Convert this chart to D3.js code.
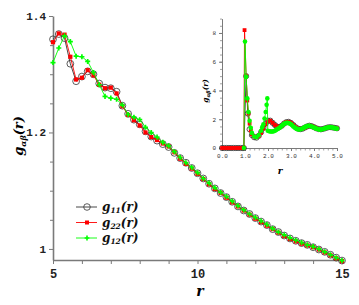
<!DOCTYPE html>
<html>
<head>
<meta charset="utf-8">
<script src="https://cdn.jsdelivr.net/npm/d3@7"></script>
<style>
body{margin:0;background:#fff;}
text{font-family:"Liberation Mono",monospace;}
.lab{font-family:"DejaVu Serif",serif;}
</style>
</head>
<body>
<script>
// main panel data, r = 5 .. 15
var rMain = [5.0,5.2,5.4,5.6,5.8,6.0,6.2,6.4,6.6,6.8,7.0,7.2,7.4,7.6,7.8,8.0,8.2,8.4,8.6,8.8,9.0,9.2,9.4,9.6,9.8,10.0,10.2,10.4,10.6,10.8,11.0,11.2,11.4,11.6,11.8,12.0,12.2,12.4,12.6,12.8,13.0,13.2,13.4,13.6,13.8,14.0,14.2,14.4,14.6,14.8,15.0]
var g11Main = [1.360,1.369,1.362,1.318,1.288,1.296,1.305,1.300,1.284,1.277,1.276,1.270,1.246,1.232,1.222,1.214,1.202,1.193,1.186,1.180,1.175,1.165,1.156,1.148,1.139,1.130,1.121,1.112,1.104,1.096,1.089,1.081,1.073,1.066,1.060,1.053,1.047,1.041,1.034,1.029,1.023,1.018,1.014,1.010,1.007,1.003,0.999,0.995,0.990,0.985,0.980]
var g22Main = [1.355,1.370,1.368,1.330,1.291,1.294,1.307,1.298,1.282,1.276,1.277,1.267,1.245,1.230,1.221,1.212,1.200,1.192,1.187,1.181,1.176,1.166,1.155,1.146,1.138,1.129,1.120,1.111,1.103,1.096,1.088,1.080,1.073,1.066,1.059,1.052,1.046,1.040,1.034,1.028,1.022,1.017,1.013,1.009,1.006,1.003,0.999,0.994,0.989,0.984,0.979]
var g12Main = [1.320,1.345,1.366,1.356,1.331,1.330,1.322,1.303,1.282,1.262,1.259,1.257,1.247,1.231,1.226,1.222,1.209,1.200,1.192,1.183,1.177,1.167,1.157,1.148,1.140,1.131,1.121,1.113,1.105,1.097,1.090,1.082,1.074,1.067,1.060,1.054,1.048,1.042,1.035,1.029,1.024,1.019,1.015,1.011,1.007,1.004,1.000,0.995,0.990,0.985,0.980]

// inset data, r = 0 .. 5
var rIn11 = [0,0.1,0.2,0.3,0.4,0.5,0.6,0.7,0.8,0.9,0.95,1.05,1.12,1.2,1.3,1.4,1.5,1.6,1.7,1.8,1.9,2.0,2.1,2.2,2.3,2.4,2.5,2.6,2.7,2.8,2.9,3.0,3.1,3.2,3.3,3.4,3.5,3.6,3.7,3.8,3.9,4.0,4.1,4.2,4.3,4.4,4.5,4.6,4.7,4.8,4.9,5.0]
var g11In = [0,0,0,0,0,0,0,0,0,0,0,5.0,2.4,1.3,0.9,0.75,0.72,0.85,1.1,1.4,1.7,1.9,1.9,1.75,1.6,1.48,1.45,1.55,1.7,1.8,1.82,1.74,1.6,1.45,1.35,1.31,1.34,1.42,1.5,1.55,1.52,1.45,1.37,1.32,1.3,1.33,1.38,1.43,1.45,1.43,1.4,1.37]
var rIn22 = [0,0.1,0.2,0.3,0.4,0.5,0.6,0.7,0.8,0.9,0.95,0.98,1.05,1.1,1.15,1.2,1.25,1.3,1.4,1.5,1.6,1.7,1.8,1.9,2.0,2.1,2.2,2.3,2.4,2.5,2.6,2.7,2.8,2.9,3.0,3.1,3.2,3.3,3.4,3.5,3.6,3.7,3.8,3.9,4.0,4.1,4.2,4.3,4.4,4.5,4.6,4.7,4.8,4.9,5.0]
var g22In = [0,0,0,0,0,0,0,0,0,0,0,8.2,5.0,3.3,2.4,1.7,1.2,0.95,0.8,0.75,0.85,1.05,1.35,1.65,1.85,1.9,1.75,1.6,1.5,1.45,1.55,1.7,1.8,1.82,1.75,1.6,1.45,1.35,1.32,1.35,1.42,1.5,1.55,1.52,1.45,1.37,1.32,1.3,1.33,1.38,1.43,1.45,1.43,1.4,1.37]
var rIn12 = [0.95,1.0,1.05,1.1,1.15,1.2,1.25,1.3,1.4,1.5,1.6,1.7,1.75,1.8,1.85,1.9,1.94,1.97,1.99,2.05,2.1,2.15,2.2,2.25,2.3,2.35,2.4,2.45,2.5,2.55,2.6,2.65,2.7,2.75,2.8,2.85,2.9,2.95,3.0,3.05,3.1,3.15,3.2,3.25,3.3,3.35,3.4,3.45,3.5,3.55,3.6,3.65,3.7,3.75,3.8,3.85,3.9,3.95,4.0,4.05,4.1,4.15,4.2,4.25,4.3,4.35,4.4,4.45,4.5,4.55,4.6,4.65,4.7,4.75,4.8,4.85,4.9,4.95,5.0]
var g12In = [0,7.4,4.95,3.45,2.5,1.9,1.4,1.05,0.8,0.75,0.9,1.2,1.45,1.65,2.05,2.5,3.0,3.45,1.2,1.17,1.15,1.15,1.15,1.17,1.2,1.25,1.3,1.35,1.4,1.47,1.55,1.62,1.68,1.72,1.75,1.75,1.73,1.7,1.65,1.58,1.5,1.44,1.38,1.33,1.3,1.29,1.3,1.32,1.35,1.4,1.45,1.49,1.52,1.54,1.55,1.53,1.5,1.46,1.42,1.38,1.35,1.32,1.3,1.28,1.28,1.3,1.32,1.35,1.38,1.41,1.43,1.44,1.45,1.44,1.42,1.4,1.38,1.36,1.35]

var xMainTicks = [5,10,15]
var yMainTicks = [1,1.2,1.4]
var xInTicks = [0,1,2,3,4,5]
var yInTicks = [0,2,4,6,8]

var legendNames = ["11","22","12"]

var svg = d3.select("body").append("svg")
  .attr("width",359).attr("height",305)

var x = d3.scaleLinear().domain([5,15]).range([53,342])
var y = d3.scaleLinear().domain([0.981,1.4]).range([260,16])

var axisColor = "#7a7a7a"
var green = "#00ff00"

function styleAxis(g, w) {
  g.selectAll(".domain").attr("stroke",axisColor).attr("stroke-width",w)
  g.selectAll(".tick line").attr("stroke",axisColor)
}

// minor ticks first
var xm = svg.append("g").attr("transform","translate(0,260)")
  .call(d3.axisBottom(x).tickValues([6,7,8,9,11,12,13,14]).tickSize(4).tickFormat(""))
xm.select(".domain").remove()
xm.selectAll(".tick line").attr("stroke",axisColor)
var ym = svg.append("g").attr("transform","translate(53,0)")
  .call(d3.axisLeft(y).tickValues([1.05,1.1,1.15,1.25,1.3,1.35]).tickSize(3).tickFormat(""))
ym.select(".domain").remove()
ym.selectAll(".tick line").attr("stroke",axisColor)

var xa = svg.append("g").attr("transform","translate(0,260)")
  .call(d3.axisBottom(x).tickValues(xMainTicks).tickSize(4).tickSizeOuter(0).tickPadding(5).tickFormat(d3.format("d")))
styleAxis(xa,1.6)
xa.selectAll("text").attr("font-size",12).attr("font-weight","bold").attr("fill","#222")

var ya = svg.append("g").attr("transform","translate(53,0)")
  .call(d3.axisLeft(y).tickValues(yMainTicks).tickSize(4).tickSizeOuter(0).tickPadding(3).tickFormat(function(d){return d==1?"1":d3.format(".1f")(d)}))
styleAxis(ya,1.6)
ya.selectAll("text").attr("font-size",11).attr("font-weight","bold").attr("fill","#222")

// axis titles
svg.append("text").attr("class","lab").attr("x",200).attr("y",296).attr("text-anchor","middle")
  .attr("font-size",14).attr("font-weight","bold").attr("font-style","italic").text("r")

var yt = svg.append("text").attr("class","lab").attr("transform","translate(23,136) rotate(-90)")
  .attr("text-anchor","middle").attr("font-size",13).attr("font-weight","bold").attr("font-style","italic")
yt.append("tspan").text("g")
yt.append("tspan").attr("font-size",8).attr("dy",3).text("αβ")
yt.append("tspan").attr("dy",-3).text("(r)")

function drawSeries(g, xs, ys, rs, vs, colour, kind, size) {
  var pts = rs.map(function(r,i){return [r, vs[i]]})
  var line = d3.line().x(function(d){return xs(d[0])}).y(function(d){return ys(d[1])})
  g.append("path").datum(pts).attr("d",line).attr("fill","none")
    .attr("stroke",colour).attr("stroke-width",0.9)
  drawMarks(g, pts.map(function(d){return [xs(d[0]),ys(d[1])]}), colour, kind, size)
}

function drawMarks(g, pts, colour, kind, size) {
  if (kind=="circle") {
    g.selectAll(null).data(pts).enter().append("circle")
      .attr("cx",function(d){return d[0]}).attr("cy",function(d){return d[1]})
      .attr("r",size).attr("fill","none").attr("stroke","#333").attr("stroke-width",0.8)
  } else if (kind=="square") {
    g.selectAll(null).data(pts).enter().append("rect")
      .attr("x",function(d){return d[0]-size}).attr("y",function(d){return d[1]-size})
      .attr("width",size*2).attr("height",size*2).attr("fill",colour)
  } else if (kind=="dot") {
    g.selectAll(null).data(pts).enter().append("circle")
      .attr("cx",function(d){return d[0]}).attr("cy",function(d){return d[1]})
      .attr("r",size).attr("fill",colour)
  } else {
    g.selectAll(null).data(pts).enter().append("path")
      .attr("transform",function(d){return "translate("+d[0]+","+d[1]+")"})
      .attr("d",d3.symbol().type(d3.symbolCross).size(size*size*3.2))
      .attr("fill",colour)
  }
}

var main = svg.append("g")
drawSeries(main, x, y, rMain, g11Main, "#333", "circle", 3.4)
drawSeries(main, x, y, rMain, g22Main, "#ff0000", "square", 2.1)
drawSeries(main, x, y, rMain, g12Main, green, "cross", 2.1)

// legend
var legend = svg.append("g")
var legendColours = ["#333","#ff0000",green]
var legendKinds = ["circle","square","cross"]
var legendSizes = [3.3,2.0,2.0]
legendNames.forEach(function(n,i){
  var ly = 207 + i*15.5
  legend.append("line").attr("x1",76).attr("x2",97).attr("y1",ly).attr("y2",ly)
    .attr("stroke",legendColours[i]).attr("stroke-width",0.9)
  drawMarks(legend, [[87,ly]], legendColours[i], legendKinds[i], legendSizes[i])
  var t = legend.append("text").attr("class","lab").attr("x",102).attr("y",ly+4)
    .attr("font-size",12).attr("font-weight","bold").attr("font-style","italic").attr("fill","#111")
  t.append("tspan").text("g")
  t.append("tspan").attr("font-size",7.5).attr("dy",2).text(n)
  t.append("tspan").attr("dy",-2).text("(r)")
})

// inset
var xi = d3.scaleLinear().domain([0,5]).range([222,337])
var yi = d3.scaleLinear().domain([0,9]).range([148,18.6])

var xim = svg.append("g").attr("transform","translate(0,148)")
  .call(d3.axisBottom(xi).tickValues(d3.range(0,5.01,0.2)).tickSize(2.5).tickFormat(""))
xim.select(".domain").remove()
xim.selectAll(".tick line").attr("stroke",axisColor).attr("stroke-width",0.7)
var yim = svg.append("g").attr("transform","translate(222,0)")
  .call(d3.axisLeft(yi).tickValues(d3.range(0,9.01,0.5)).tickSize(2).tickFormat(""))
yim.select(".domain").remove()
yim.selectAll(".tick line").attr("stroke",axisColor).attr("stroke-width",0.7)

var xia = svg.append("g").attr("transform","translate(0,148)")
  .call(d3.axisBottom(xi).tickValues(xInTicks).tickSize(3).tickSizeOuter(0).tickPadding(3))
styleAxis(xia,1)
xia.selectAll("text").attr("font-size",6).attr("fill","#333")

var yia = svg.append("g").attr("transform","translate(222,0)")
  .call(d3.axisLeft(yi).tickValues(yInTicks).tickSize(3).tickSizeOuter(0).tickPadding(3))
styleAxis(yia,1)
yia.selectAll("text").attr("font-size",6).attr("fill","#333")

svg.append("text").attr("class","lab").attr("x",280).attr("y",174).attr("text-anchor","middle")
  .attr("font-size",9).attr("font-weight","bold").attr("font-style","italic").text("r")

var yit = svg.append("text").attr("class","lab").attr("transform","translate(208,91) rotate(-90)")
  .attr("text-anchor","middle").attr("font-size",7.5).attr("font-weight","bold").attr("font-style","italic")
yit.append("tspan").text("g")
yit.append("tspan").attr("font-size",5).attr("dy",1.5).text("αβ")
yit.append("tspan").attr("dy",-1.5).text("(r)")

var inset = svg.append("g")
drawSeries(inset, xi, yi, rIn11, g11In, "#333", "circle", 2.6)
drawSeries(inset, xi, yi, rIn22, g22In, "#ff0000", "square", 1.9)
drawSeries(inset, xi, yi, rIn12, g12In, green, "dot", 2.3)
</script>
</body>
</html>
